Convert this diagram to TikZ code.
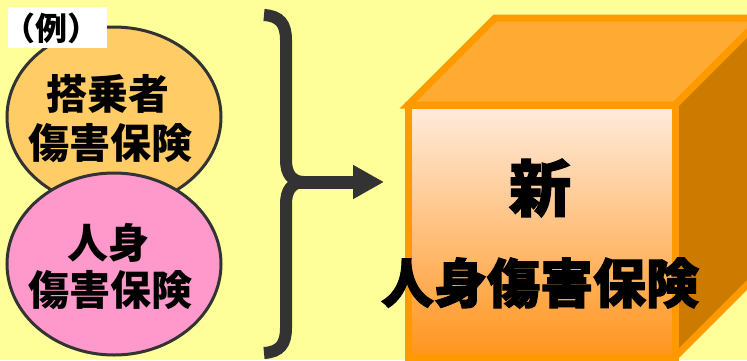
\documentclass[tikz,border=0pt]{standalone}
\usepackage{fontspec}
\newfontfamily\jp{Noto Sans CJK JP}
\newfontfamily\jpheavy{Noto Sans CJK JP}[BoldFeatures={FakeBold=2}]
\usetikzlibrary{arrows.meta}
\definecolor{bgyellow}{RGB}{255,255,153}
\definecolor{ellorange}{RGB}{255,204,102}
\definecolor{ellpink}{RGB}{255,153,204}
\definecolor{darkline}{RGB}{51,51,51}
\definecolor{cubeedge}{RGB}{255,153,0}
\definecolor{cubetop}{RGB}{255,170,51}
\definecolor{cubeside}{RGB}{204,122,0}
\definecolor{frontlight}{RGB}{255,236,222}
\definecolor{frontdark}{RGB}{255,148,28}
\tikzset{
  elltext/.style={font=\jp\bfseries\fontsize{41}{41}\selectfont, inner sep=0pt},
  bigtext/.style={font=\jpheavy\bfseries\fontsize{53}{53}\selectfont, inner sep=0pt},
  cubeline/.style={draw=cubeedge, line width=7pt, line join=miter},
}
\begin{document}
\begin{tikzpicture}[x=1pt,y=-1pt]
\clip (0,0) rectangle (747,360);
\fill[bgyellow] (0,0) rectangle (747,360);
% ellipses
\draw[darkline, line width=3pt, fill=ellorange] (114,117) ellipse [x radius=107, y radius=90];
\node[elltext] (o1) at (108,94) {搭乗者};
\node[elltext] (o2) at (110,143) {傷害保険};
\draw[darkline, line width=3pt, fill=ellpink] (114,264) ellipse [x radius=107, y radius=91];
\node[elltext] (p1) at (108,243) {人身};
\node[elltext] (p2) at (110,290) {傷害保険};
% example label
\fill[white] (8,7) rectangle (107,48);
\node[font=\jp\bfseries\fontsize{32}{32}\selectfont, inner sep=0pt] (ex) at (52,28) {（例）};
% brace
\draw[darkline, line width=12pt]
  (264,15) .. controls (280,16) and (286,24) .. (286,40)
  -- (286,160) .. controls (286,174) and (292,182) .. (304,182);
\draw[darkline, line width=12pt]
  (304,182) .. controls (292,182) and (286,190) .. (286,204)
  -- (286,328) .. controls (286,344) and (280,352) .. (264,353);
% cube
\coordinate (FTL) at (408,105);
\coordinate (FTR) at (675,105);
\coordinate (FBR) at (675,357);
\coordinate (FBL) at (408,357);
\coordinate (BTL) at (495,18);
\coordinate (BTR) at (762,18);
\coordinate (BBR) at (762,270);
\filldraw[cubeline, fill=cubetop] (FTL) -- (FTR) -- (BTR) -- (BTL) -- cycle;
\filldraw[cubeline, fill=cubeside] (FTR) -- (BTR) -- (BBR) -- (FBR) -- cycle;
\shade[top color=frontlight, bottom color=frontdark] (FTL) rectangle (FBR);
\draw[cubeline] (FTL) rectangle (FBR);
% arrow
\coordinate (arrowtail) at (296,182);
\coordinate (arrowtip) at (384,182);
\draw[darkline, line width=13pt, -{Triangle[length=31pt,width=32pt]}] (arrowtail) -- (arrowtip);
% cube text
\node[font=\jpheavy\bfseries\fontsize{62}{62}\selectfont, inner sep=0pt] (new) at (540,188) {新};
\node[bigtext] (name) at (540,283) {人身傷害保険};
\end{tikzpicture}
\end{document}
